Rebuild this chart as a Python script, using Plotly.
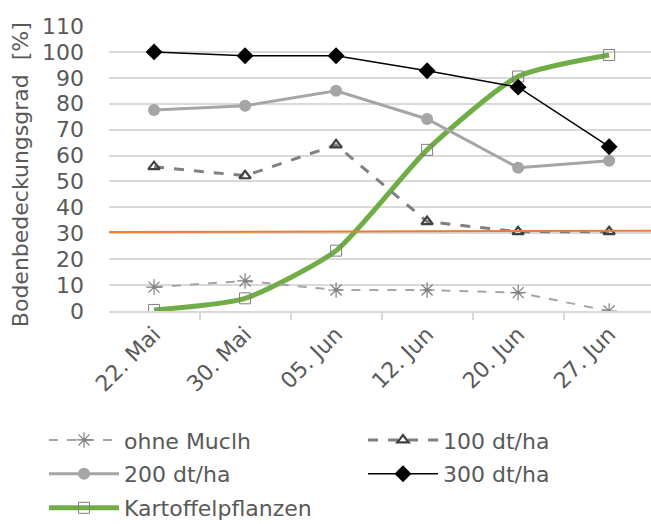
import plotly.graph_objects as go

# Sampling dates and soil cover [%] per mulch rate
dates = ["22. Mai", "30. Mai", "05. Jun", "12. Jun", "20. Jun", "27. Jun"]
ohne_mulch = [9.2, 11.6, 8.1, 8.1, 7.1, 0.0]
mulch_100 = [55.7, 52.2, 64.1, 34.5, 30.6, 30.6]
mulch_200 = [77.6, 79.2, 85.0, 74.1, 55.3, 58.0]
mulch_300 = [100.0, 98.5, 98.5, 92.7, 86.4, 63.4]
kartoffel = [0.4, 4.9, 23.3, 62.2, 90.5, 98.8]
threshold = [30.5, 31.0]
y_ticks = list(range(0, 111, 10))

FONT = "DejaVu Sans, Liberation Sans, sans-serif"
FS = 22
TXT = "#595959"

fig = go.Figure()

fig.add_trace(go.Scatter(
    x=dates, y=kartoffel, name="Kartoffelpflanzen", mode="lines+markers",
    line=dict(color="#70ad47", width=5, shape="spline", smoothing=0.6),
    marker=dict(symbol="square-open", size=11, color="#7f7f7f", line=dict(width=1)),
    legend="legend5",
))
fig.add_trace(go.Scatter(
    x=dates, y=ohne_mulch, name="ohne Muclh", mode="lines+markers",
    line=dict(color="#a5a5a5", width=2, dash="dash"),
    marker=dict(symbol="asterisk-open", size=13, color="#7f7f7f", line=dict(width=1.2, color="#7f7f7f")),
    legend="legend",
))
fig.add_trace(go.Scatter(
    x=dates, y=mulch_100, name="100 dt/ha", mode="lines+markers",
    line=dict(color="#808080", width=3, dash="10px,10px"),
    marker=dict(symbol="triangle-up-open", size=10, color="#404040", line=dict(width=2.2, color="#404040")),
    legend="legend2",
))
fig.add_trace(go.Scatter(
    x=dates, y=mulch_200, name="200 dt/ha", mode="lines+markers",
    line=dict(color="#a5a5a5", width=3),
    marker=dict(symbol="circle", size=12, color="#a5a5a5"),
    legend="legend3",
))
fig.add_trace(go.Scatter(
    x=dates, y=mulch_300, name="300 dt/ha", mode="lines+markers",
    line=dict(color="#000000", width=1.5),
    marker=dict(symbol="diamond", size=13, color="#000000"),
    legend="legend4",
))

# 30 % reference level across the plot
fig.add_shape(type="line", xref="paper", yref="y", x0=0, x1=1,
              y0=threshold[0], y1=threshold[1],
              line=dict(color="#ed7d31", width=2), layer="above")

# y-axis title, set beside the tick labels
fig.add_annotation(
    text="Bodenbedeckungsgrad  [%]", textangle=-90,
    xref="paper", yref="paper", x=-0.164, y=0.477,
    xanchor="center", yanchor="middle", showarrow=False,
    font=dict(family=FONT, size=FS, color=TXT),
)

legend_common = dict(
    orientation="v", xanchor="left", yanchor="middle",
    xref="container", yref="container",
    font=dict(family=FONT, size=FS, color=TXT),
    itemwidth=70, bgcolor="rgba(0,0,0,0)",
)
col1, col2 = 0.0676, 0.5576
row1, row2, row3 = 0.160, 0.0954, 0.0305

fig.update_layout(
    width=651, height=524,
    showlegend=True,
    margin=dict(l=109, r=0, t=26, b=213, autoexpand=False),
    paper_bgcolor="white", plot_bgcolor="white",
    font=dict(family=FONT, size=FS, color=TXT),
    xaxis=dict(
        type="category", range=[-0.495, 5.46], automargin=False,
        tickangle=-45, tickfont=dict(size=FS, color=TXT),
        showgrid=False, showline=True, linecolor="#d9d9d9", linewidth=1.5,
        ticks="outside", tickson="boundaries", ticklen=7, tickcolor="#d9d9d9",
        tickwidth=1.5,
    ),
    yaxis=dict(
        range=[0, 110], tickvals=y_ticks, tickfont=dict(size=FS, color=TXT),
        ticklabelstandoff=24, automargin=False,
        showgrid=True, gridcolor="#d9d9d9", gridwidth=1.5, zeroline=False,
        ticks="", showline=False,
    ),
    legend=dict(x=col1, y=row1, **legend_common),
    legend2=dict(x=col2, y=row1, **legend_common),
    legend3=dict(x=col1, y=row2, **legend_common),
    legend4=dict(x=col2, y=row2, **legend_common),
    legend5=dict(x=col1, y=row3, **legend_common),
)

fig.write_html("out.html")
